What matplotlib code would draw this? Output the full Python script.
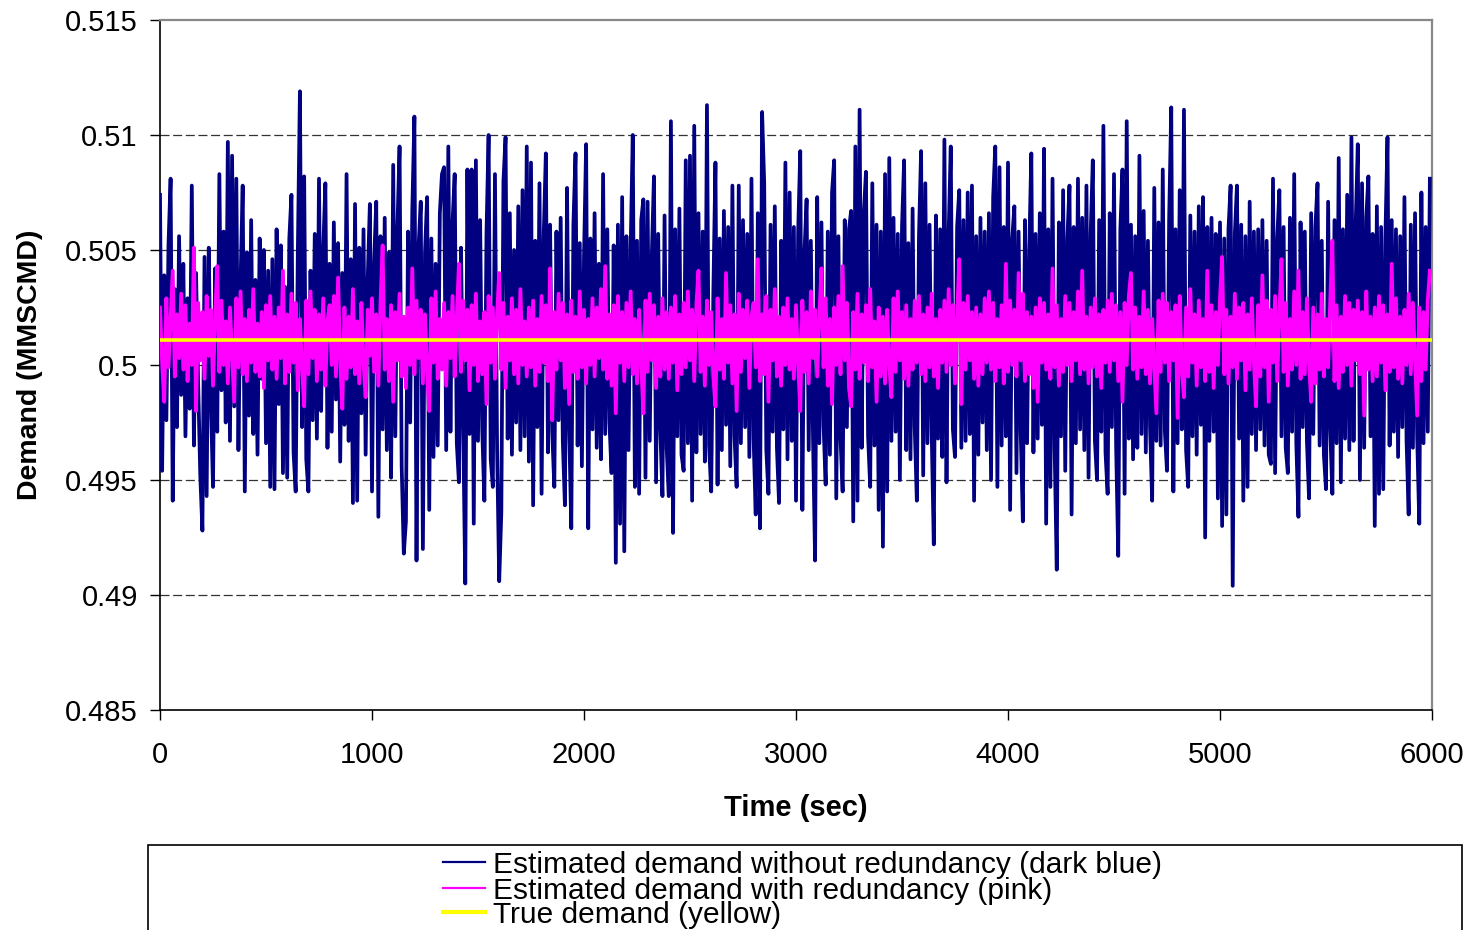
"""Estimated vs true gas demand over a 6000 s run, with and without redundancy."""
import matplotlib
matplotlib.use("Agg")
import matplotlib.pyplot as plt
import numpy as np
from matplotlib.lines import Line2D
from matplotlib.patches import Rectangle
from matplotlib.ticker import FuncFormatter, MultipleLocator

plt.rcParams["font.family"] = ["Liberation Sans", "DejaVu Sans"]
plt.rcParams["lines.scale_dashes"] = False

BLUE = "#000080"
PINK = "#ff00ff"
YELLOW = "#ffff00"

TRUE_DEMAND = 0.5011      # MMSCMD
SAMPLE_STEP = 10          # sec between estimates

# estimate errors, 1e-4 MMSCMD, one row per 200 s
blue_err = [
    63, -57, 28, -35, 41, 70, -70, 22, -38, 45, -24, 33, -42, 18, -30, 67, -46, 29, -19, -59,
    -83, 36, -68, 40, -27, -64, 31, -40, 72, -22, 47, -36, 86, -44, 80, -29, 70, -48, 25, 67,
    -66, 38, -33, 52, -41, 26, -50, 44, -17, 39, -45, 30, -64, 35, -65, 48, -28, 41, -58, 23,
    -60, 44, 63, -49, -66, 37, 108, -38, 71, -52, -66, 30, -35, 46, -43, 70, -31, 39, 68, -47,
    33, -40, 51, -26, 42, -53, 29, -37, 72, -44, 35, -71, 59, -70, 40, -32, 48, -50, 27, 59,
    -66, 34, 60, -77, 45, -39, 53, -48, 38, -60, 76, -42, 49, 84, -55, -93, -79, 47, -36, 56,
    97, -96, 41, 60, -91, 38, 62, -74, 44, -51, 33, -46, 55, 72, 75, -48, 84, -40, 51, 72,
    -45, -62, 40, -37, -106, 74, -41, 74, -80, 78, -44, 52, -39, -70, 46, 89, -52, -64, 72, -47,
    -105, -75, 69, 88, -43, 55, -50, 39, -36, 58, -48, 65, -42, 84, -53, 77, -72, 43, -38, 68,
    -67, 45, 81, -49, 50, -40, -64, 47, -35, 53, -44, -72, 66, -38, -82, 50, 81, -46, 42, -55,
    36, 85, -82, 44, -39, 55, -47, 33, -52, 72, -41, 48, -36, -58, 41, -97, 50, -80, 62, -92,
    45, -48, 39, 89, -64, 43, -67, 52, 61, -60, 60, -44, 37, 71, -62, 46, -39, -68, 54, -47,
    -68, 95, -84, 48, -42, 57, -50, -57, 78, -45, 80, -70, 93, -49, 55, -41, 47, -53, 102, -46,
    -66, 20, 77, -63, 44, -48, 56, -37, 49, -55, 67, -42, -64, 67, -45, 52, -38, 46, -51, 70,
    -43, -76, 55, -82, 99, 68, -48, -67, 50, -40, 58, -47, -71, 43, -39, 77, -52, 64, -44, 49,
    -70, 46, 82, -74, 38, 61, -48, 43, -41, -96, 62, -45, 51, -37, -63, 47, -50, 64, 78, -69,
    45, -43, -66, 52, -38, 48, 56, -79, 84, -70, 100, -47, 55, 73, -42, -64, 68, -46, 50, -74,
    47, -90, 72, -66, 79, -44, 53, -40, 46, -61, 49, 78, -48, 42, -52, 57, -38, -70, 45, 82,
    -59, 68, -45, 50, -40, -89, 54, -43, 48, -51, 87, -62, 46, 84, -39, -51, 49, 65, -47, 52,
    -44, 64, -41, 67, -70, 45, -50, 53, -36, 47, -48, 55, -61, 62, 84, -64, 75, -46, 49, -42,
    77, -74, 44, 58, -58, 47, -40, -79, 52, -45, 38, 81, -49, 46, -43, 55, -37, 83, -80, 48,
    -64, 70, -47, -100, 51, -42, 65, -57, 44, 67, -76, 49, -45, 70, -39, 53, -48, 67, -60, 46,
    78, -44, -61, 52, -40, 93, -49, -67, 55, -38, 72, -46, -94, 48, 74, -67, 95, -43, 50, -52,
    45, -47, 80, -41, 56, -49, 43, -38, -70, 66, -44, 51, -46, 74, -40, -57, 52, 101, -66, 48,
    -45, 65, -39, 100, -48, -64, 54, -42, 47, -50, 58, -37, 62, -86, 49, -44, 53, -40, 46, -69,
    51, -81, 44, -76, 48, 67, -107, 46, 67, -43, 50, -70, 45, -64, 60, -41, 47, -48, 48, -39,
    52, -46, 43, -50, -54, 70, -58, 44, 65, -42, 49, -47, -58, 53, -40, 72, -45, -77, 51, -38,
    47, -44, -69, 55, -41, 49, 68, -46, 43, -50, -65, 60, -39, -67, 52, -45, 79, -62, 48, -43,
    63, -48, 88, -44, 50, 85, -61, 68, -47, 53, 71, -42, 46, -81, 58, -67, 49, -65, 44, 88,
    -46, 52, -40, 48, -51, 45, -38, 62, -44, -76, 50, -47, 55, -42, -80, 64, -45, 49, -40, 70,
]

pink_err = [
    14, -10, -27, 18, -12, 9, 30, -16, 11, -8, 20, -13, 15, -18, 7, -11, 40, -31, 16, -9,
    12, -17, 19, -7, 13, -20, 10, 32, -14, 17, -11, 8, -19, 14, -6, -27, 18, -12, 21, -15,
    9, -18, 13, -10, 22, -14, 7, -16, 12, -21, 15, -9, 19, -13, 10, -17, 14, -8, 30, -19,
    11, -14, 20, -10, 16, -22, 9, -12, -29, 17, -15, 21, -8, 13, -18, 11, -13, 18, -20, 8,
    15, -11, 19, -16, 27, -9, -30, 14, -17, 10, -12, 22, -15, 8, -19, 16, -10, -25, 13, -7,
    18, -14, 11, -20, 16, 41, -13, 9, -18, 15, -27, 12, -9, 20, -16, 10, -21, 14, -11, 31,
    -15, 17, -8, 13, -19, 11, -14, -31, 18, -10, 21, -17, 9, -13, 16, -20, 12, -8, 19, -16,
    10, 33, -14, 17, -9, 13, -22, 15, -11, 20, -18, 8, -15, 12, -28, 19, -10, 14, -17, 11,
    29, -13, 16, -21, 10, -9, 18, -15, 13, -19, 22, -11, 8, -16, 14, -12, 17, -20, 9, -14,
    19, -10, 15, -18, 31, -35, 12, -13, 20, -9, 16, -21, 11, -28, 17, -14, 10, -17, 21, -12,
    13, -19, 9, -11, 18, -16, 14, -8, 22, -13, 32, -17, 11, -20, 15, -32, 19, -10, 12, -18,
    16, -12, 21, -15, 9, -19, 13, -11, -32, 17, -14, 20, -9, 15, -21, 10, -16, 18, -13, 12,
    -17, 14, -10, 19, -22, 11, -15, 16, -12, 21, -9, 13, -18, 15, 30, -14, 10, -20, 17, -11,
    12, -16, -29, 18, -13, 9, -17, 29, -10, 15, -19, 11, -31, 20, -14, 13, -8, 17, -21, 10,
    16, -12, 35, -18, 11, -15, 19, -27, 13, -9, 22, -16, 10, -20, 14, -11, 18, -13, 9, -17,
    15, -10, -31, 17, -14, 12, -19, 21, -8, 13, -16, 10, 31, -12, 18, -20, 9, -28, 14, -11,
    19, -15, 32, -9, 16, -21, -29, 12, -13, 20, -17, 11, -10, 15, -18, 22, -12, 8, -27, 14,
    -16, 10, -19, 13, -11, -25, 18, -14, 21, -9, 12, -17, 15, -20, 9, -13, 17, -10, 19, -15,
    11, -18, 14, -12, 20, -16, 9, -21, 13, -10, 17, -14, 22, -11, 15, -19, 10, 35, -28, 16,
    -13, 19, -9, 12, -17, 14, -20, 11, -15, 18, -10, 21, -13, 16, -18, 9, -12, 15, -19, 33,
    -14, 17, -11, 13, -16, 29, -9, 20, -18, 12, -15, 10, -21, 14, -27, 18, -10, 16, -13, 11,
    -17, 31, -12, 15, -20, 9, -14, 19, -11, 16, -18, 12, -9, 21, -15, 30, -13, 10, -19, 14,
    -12, 18, -16, 11, -21, 13, -10, 17, -14, 20, -9, 15, -18, 12, -27, 16, -11, 19, 29, -13,
    14, -17, 10, -12, 21, -15, 13, -19, 9, -11, -32, 17, -14, 20, -10, 16, -18, 12, -9, 15,
    -34, 19, -13, -25, 14, -16, 22, -10, 11, -20, 17, -12, 9, -18, 30, -14, 15, -21, 12, -11,
    18, 36, -15, 13, -19, 10, -12, 20, -17, 14, -9, 16, -22, 11, -13, 18, -10, -29, 15, -16,
    28, -12, 17, -27, 13, -10, 19, -18, 11, 35, -14, 16, -20, 9, -13, 21, -11, 30, -17, 12,
    -15, 18, -10, -27, 14, -19, 11, -13, 20, -16, 9, -12, 17, 43, -18, 15, -21, 10, -14, 19,
    -11, 16, -20, 13, -9, 17, -15, 12, -33, 21, -13, 10, -18, 14, -16, 19, -10, 15, -22, 11,
    -14, 33, -12, 18, -17, 10, -19, 13, -11, 20, -15, 16, -9, -33, 14, -18, 12, -13, 17, 30,
]

LABELS = [
    "Estimated demand without redundancy (dark blue)",
    "Estimated demand with redundancy (pink)",
    "True demand (yellow)",
]

blue = TRUE_DEMAND + np.array(blue_err) * 1e-4
pink = TRUE_DEMAND + np.array(pink_err) * 1e-4
t_blue = np.arange(len(blue)) * SAMPLE_STEP
t_pink = np.arange(len(pink)) * SAMPLE_STEP

fig = plt.figure(figsize=(14.7, 9.3), dpi=100)
fig.patch.set_facecolor("white")
W, H = 1470, 930
ax = fig.add_axes([160 / W, 1 - 710 / H, 1272 / W, 690 / H])

ax.plot(t_blue, blue, color=BLUE, linewidth=2.7, zorder=3)
ax.plot(t_pink, pink, color=PINK, linewidth=2.7, zorder=4)
ax.axhline(TRUE_DEMAND, color=YELLOW, linewidth=2.6, zorder=5)

ax.set_xlim(0, 6000)
ax.set_ylim(0.485, 0.515)
ax.xaxis.set_major_locator(MultipleLocator(1000))
ax.yaxis.set_major_locator(MultipleLocator(0.005))
ax.yaxis.set_major_formatter(FuncFormatter(lambda v, _: f"{v:.3f}".rstrip("0").rstrip(".")))

for yv in [0.49, 0.495, 0.5, 0.505, 0.51]:
    ax.axhline(yv, color="#333333", linewidth=0.9, dashes=(6.5, 2.6), zorder=1)

ax.tick_params(axis="both", direction="out", length=7, width=1, colors="black",
               labelsize=21)
ax.tick_params(axis="y", pad=9)
ax.tick_params(axis="x", pad=15)
ax.spines["left"].set_color("black")
ax.spines["bottom"].set_color("black")
ax.spines["left"].set_linewidth(1.2)
ax.spines["bottom"].set_linewidth(1.2)
for s in ["top", "right"]:
    ax.spines[s].set_color("#888888")
    ax.spines[s].set_linewidth(1.6)

ax.set_xlabel("Time (sec)", fontsize=21, fontweight="bold", labelpad=18)
ax.set_ylabel("Demand (MMSCMD)", fontsize=20.5, fontweight="bold", labelpad=16)

# legend box runs off the bottom edge of the figure
fig.add_artist(Rectangle((148 / W, 1 - 960 / H), 1314 / W, 115 / H, transform=fig.transFigure,
                         facecolor="white", edgecolor="black", linewidth=1.2, clip_on=False))
handles = [(BLUE, 1.6, 862), (PINK, 1.6, 888), (YELLOW, 3.0, 912)]
for (c, lw, yp), text in zip(handles, LABELS):
    fig.add_artist(Line2D([443 / W, 485 / W], [1 - yp / H] * 2, color=c, linewidth=lw,
                          transform=fig.transFigure))
    fig.text(493 / W, 1 - (yp + 3) / H, text, fontsize=21.5, ha="left", va="center")

fig.savefig("out.png", dpi=100, facecolor="white")
